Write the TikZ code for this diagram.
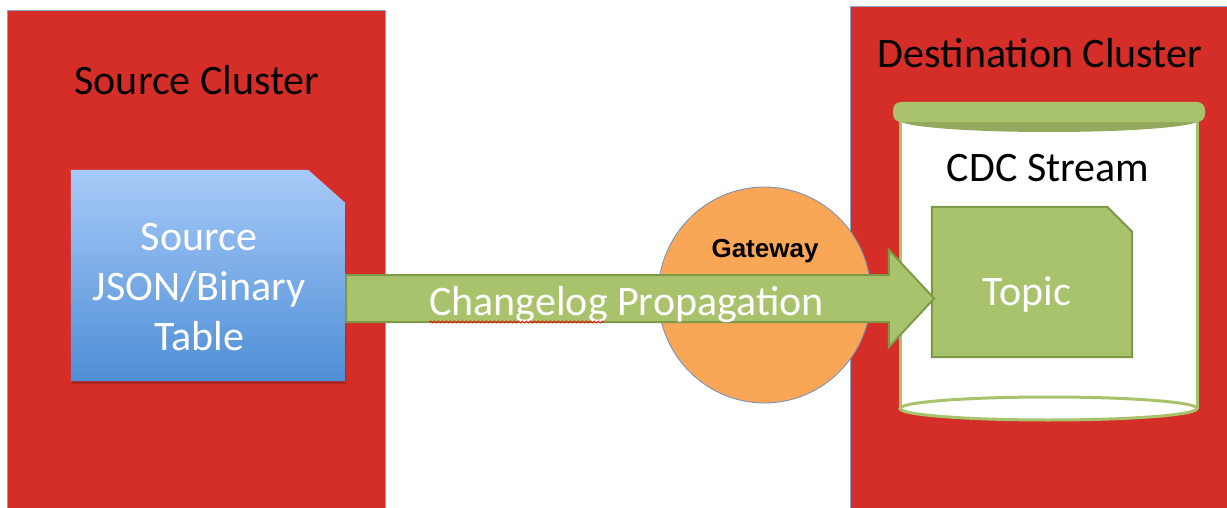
\documentclass[tikz,border=0pt]{standalone}
\usepackage{fontspec}
\setmainfont{Carlito}
\newfontfamily\gwfont{Liberation Sans}
\usetikzlibrary{shapes.geometric,shapes.arrows,backgrounds,decorations.pathmorphing}
\definecolor{clred}{RGB}{213,46,41}
\definecolor{cledge}{RGB}{140,163,204}
\definecolor{olive}{RGB}{169,195,108}
\definecolor{oliveedge}{RGB}{126,153,72}
\definecolor{olivedark}{RGB}{148,168,94}
\definecolor{gworange}{RGB}{249,166,86}
\definecolor{gwedge}{RGB}{110,143,192}
\definecolor{bluetop}{RGB}{167,202,248}
\definecolor{bluebot}{RGB}{78,142,214}

\begin{document}
\begin{tikzpicture}[x=1pt,y=-1pt,
  big/.style={font=\fontsize{42}{50}\selectfont,inner sep=0pt},
  cluster/.style={fill=clred,draw=cledge,line width=0.8pt},
  boxnode/.style={inner sep=0pt,minimum width=#1},
  olivefill/.style={fill=olive,draw=oliveedge,line width=2pt}]
  \useasboundingbox (0,0) rectangle (1227,508);
  \begin{scope}[on background layer]
    \fill[white] (0,0) rectangle (1227,508);
    \filldraw[cluster] (7,10) rectangle (385,520);
    \filldraw[cluster] (850,6) rectangle (1240,520);
    \fill[white] (900,117) rectangle (1197,408.5);
    \foreach \x in {900,1197}
      \draw[olive,line width=3pt] (\x,117) -- (\x,408.5);
    \filldraw[fill=white,draw=olive,line width=3pt] (1048.5,408.5) ellipse [x radius=148.5,y radius=11.5];
    \fill[olivedark] (1049,120) ellipse [x radius=150,y radius=12];
    \fill[olive,rounded corners=8pt] (893,102) rectangle (1205,122);
  \end{scope}
  \node[boxnode=274pt,minimum height=211pt] (src) at (208,275.5) {};
  \node[boxnode=200pt,minimum height=150pt] (topic) at (1032,282) {};
  \begin{scope}[on background layer]
    \fill[black,opacity=.18] ([shift={(1pt,-3pt)}]src.south west) -- ([shift={(1pt,-3pt)}]src.north west)
      -- ([shift={(-36pt,-3pt)}]src.north east) -- ([shift={(1pt,-36pt)}]src.north east)
      -- ([shift={(1pt,-3pt)}]src.south east) -- cycle;
    \shade[top color=bluetop,bottom color=bluebot] (src.south west) -- (src.north west)
      -- ([xshift=-37pt]src.north east) -- ([yshift=-33pt]src.north east) -- (src.south east) -- cycle;
    \filldraw[olivefill] (topic.south west) -- (topic.north west)
      -- ([xshift=-25pt]topic.north east) -- ([yshift=-25pt]topic.north east) -- (topic.south east) -- cycle;
  \end{scope}
  \node[big,anchor=base] (srclab) at (197,95) {Source Cluster};
  \node[big,anchor=base] (dstlab) at (1040,68) {Destination Cluster};
  \node[big,anchor=base] (cdclab) at (1048,182) {CDC Stream};
  \node[big,white,align=center] (srctext) at (199,287) {Source\\JSON/Binary\\Table};
  \node[big,white,anchor=base] (topiclab) at (1027,305) {Topic};
  \node[ellipse,fill=gworange,draw=gwedge,line width=0.8pt,inner sep=0pt,
    minimum width=213pt,minimum height=216pt] (gw) at (764.5,295) {};
  \node[font={\gwfont\bfseries\fontsize{26}{30}\selectfont},inner sep=0pt,anchor=base] (gwlab) at (765,257) {Gateway};
  \node[single arrow,olivefill,inner xsep=0pt,inner ysep=22.5pt,single arrow head extend=25pt,
    single arrow tip angle=94,minimum height=588pt,anchor=tail] (prop) at ([yshift=-23pt]src.east) {};
  \node[big,white,anchor=base] (proplab) at (626.5,315) {Changelog Propagation};
  \draw[red,line width=0.8pt,decorate,decoration={snake,segment length=4pt,amplitude=1pt}]
    ([yshift=-7pt]proplab.base west) -- ++(175,0);
\end{tikzpicture}
\end{document}
